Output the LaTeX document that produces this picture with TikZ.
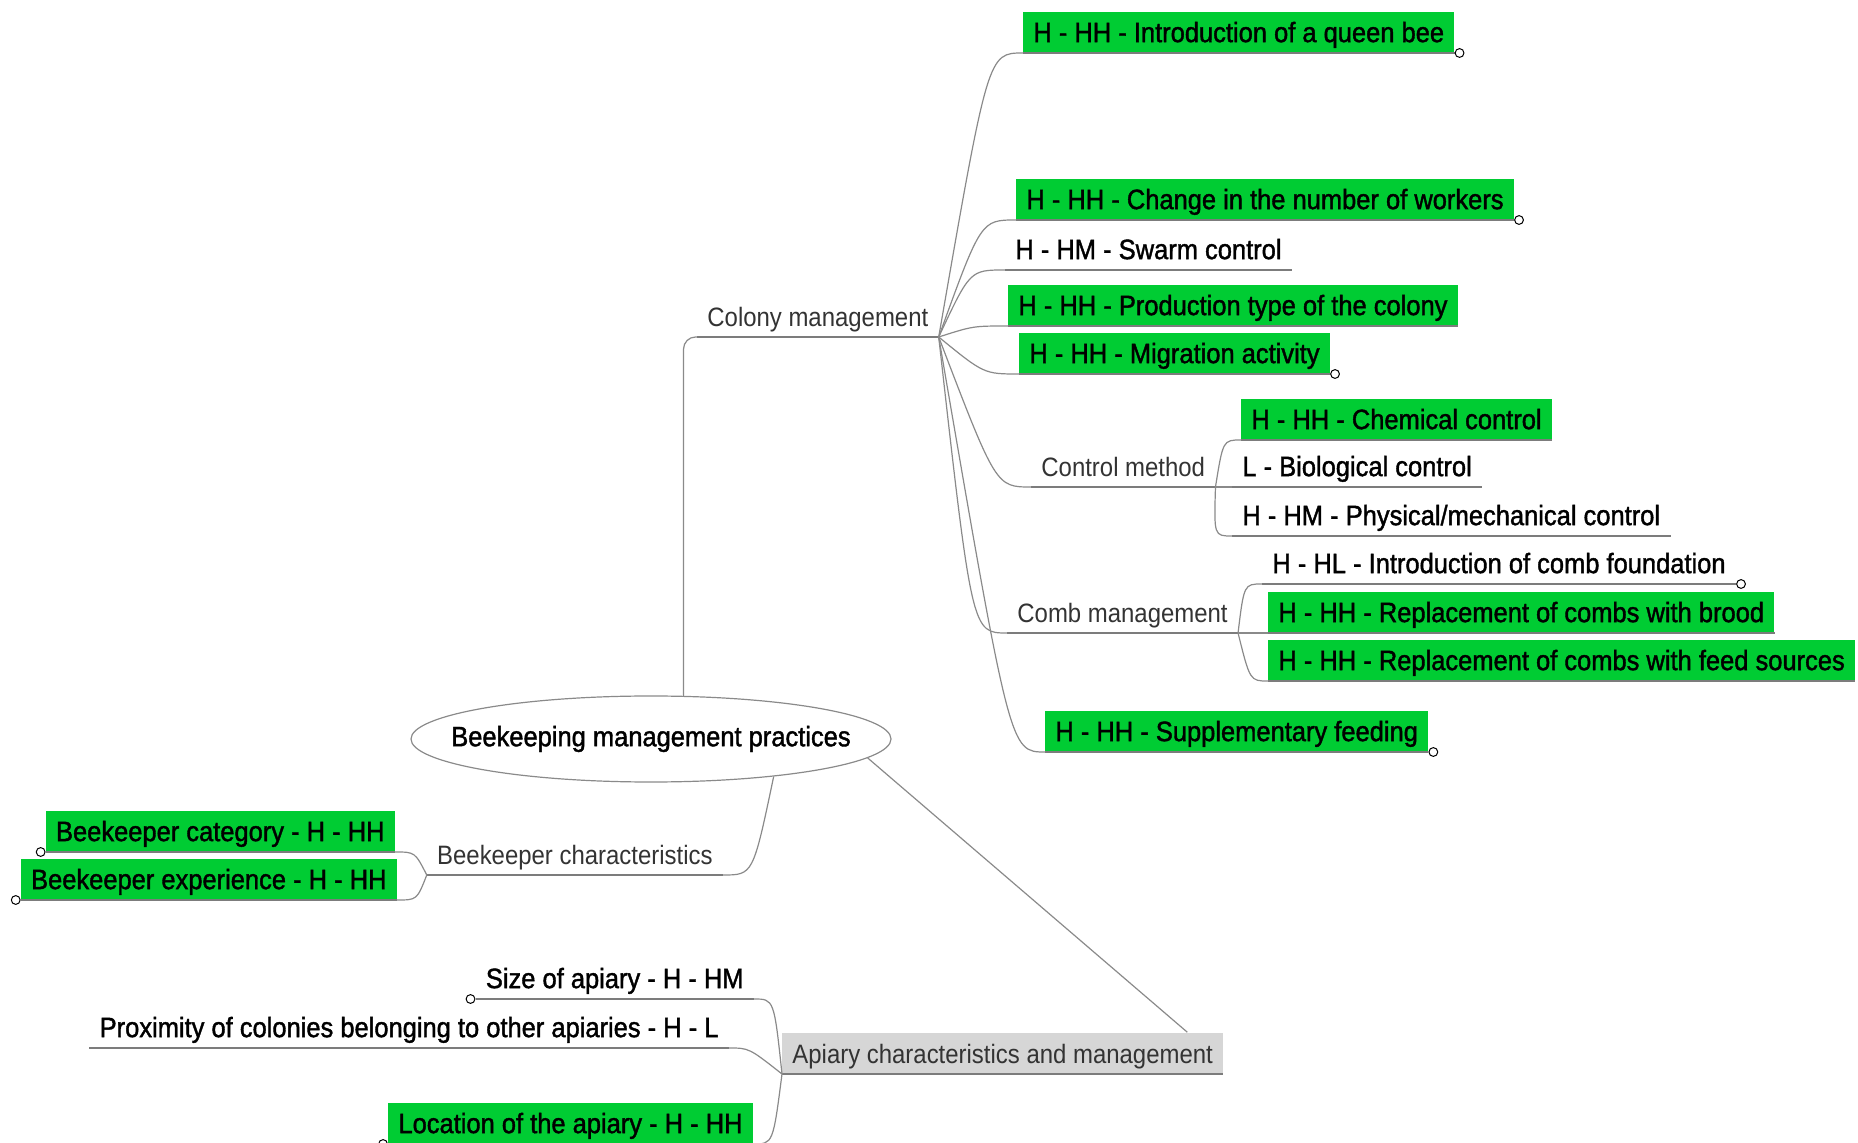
\documentclass[tikz,border=0pt]{standalone}
\usepackage{fontspec}
\setmainfont{Liberation Sans}[FakeStretch=0.9]
\newfontfamily\folhafont{Liberation Sans}[FakeStretch=0.91,FakeBold=1.4]
\usetikzlibrary{calc,shapes.geometric}
\definecolor{verde}{HTML}{00CC33}
\definecolor{cinza}{HTML}{8A8A8A}
\definecolor{cinzaclaro}{HTML}{D6D6D6}

\begin{document}
\begin{tikzpicture}[x=0.5pt,y=-0.5pt,
  folha/.style={anchor=south west,inner xsep=5pt,inner ysep=3.25pt,text height=12pt,text depth=2pt,
    font=\folhafont\fontsize{14}{16}\selectfont},
  folhaesq/.style={folha,anchor=south east},
  marcada/.style={fill=verde},
  ramo/.style={folha,font=\fontsize{13.3}{15}\selectfont,text=black!80},
  raiz/.style={ellipse,draw=cinza,line width=0.6pt,inner xsep=-15pt,inner ysep=0pt,minimum height=43pt,
    font=\folhafont\fontsize{14}{16}\selectfont},
  conn/.style={draw=cinza,line width=0.6pt},
  sub/.style={draw=cinza!90!black,line width=1.1pt},
  bola/.style={draw=black,fill=white,line width=0.5pt},
  rdir/.style={to path={.. controls ($(\tikztotarget)+(-#1,0)$) .. (\tikztotarget)}},
  rdir/.default=35,
  resq/.style={to path={.. controls ($(\tikztotarget)+(#1,0)$) .. (\tikztotarget)}},
  resq/.default=20
]
  \useasboundingbox (0,0) rectangle (1858,1143);

  % raiz
  \node[raiz] (raiz) at (651,739) {Beekeeping management practices};

  % colony management
  \node[ramo] (colonia) at (697,337) {Colony management};
  \node[folha,marcada] (qb) at (1023,53) {H - HH - Introduction of a queen bee};
  \node[folha,marcada] (cnw) at (1016,220) {H - HH - Change in the number of workers};
  \node[folha] (sc) at (1005,270) {H - HM - Swarm control};
  \node[folha,marcada] (pt) at (1008,326) {H - HH - Production type of the colony};
  \node[folha,marcada] (ma) at (1019,374) {H - HH - Migration activity};
  \node[ramo] (cmet) at (1031,487) {Control method};
  \node[folha,marcada] (chem) at (1241,440) {H - HH - Chemical control};
  \node[folha] (bio) at (1232,487) {L - Biological control};
  \node[folha] (phys) at (1232,536) {H - HM - Physical/mechanical control};
  \node[ramo] (comb) at (1007,633) {Comb management};
  \node[folha] (icf) at (1262,584) {H - HL - Introduction of comb foundation};
  \node[folha,marcada] (rcb) at (1268,633) {H - HH - Replacement of combs with brood};
  \node[folha,marcada] (rcf) at (1268,681) {H - HH - Replacement of combs with feed sources};
  \node[folha,marcada] (sf) at (1045,752) {H - HH - Supplementary feeding};

  % beekeeper characteristics
  \node[ramo,anchor=south east] (apic) at (723,875) {Beekeeper characteristics};
  \node[folhaesq,marcada] (bcat) at (395,852) {Beekeeper category - H - HH};
  \node[folhaesq,marcada] (bexp) at (397,900) {Beekeeper experience - H - HH};

  % apiary
  \node[ramo,fill=cinzaclaro] (apiario) at (782,1074) {Apiary characteristics and management};
  \node[folhaesq] (size) at (754,999) {Size of apiary - H - HM};
  \node[folhaesq] (prox) at (729,1048) {Proximity of colonies belonging to other apiaries - H - L};
  \node[folhaesq,marcada] (loc) at (753,1144) {Location of the apiary - H - HH};

  % sublinhas
  \foreach \n in {colonia,qb,cnw,sc,pt,ma,cmet,chem,bio,phys,comb,icf,rcb,rcf,sf,apic,bcat,bexp,apiario,size,prox,loc}
    \draw[sub] (\n.south west) -- (\n.south east);

  % ligacoes
  \draw[conn,rounded corners=6pt] (raiz.53) |- (colonia.south west);
  \foreach \f in {qb,cnw,sc,pt,ma,cmet,comb,sf}
    \draw[conn] (colonia.south east) to[rdir] (\f.south west);
  \foreach \f in {chem,bio,phys}
    \draw[conn] (cmet.south east) to[rdir=18] (\f.south west);
  \foreach \f in {icf,rcb,rcf}
    \draw[conn] (comb.south east) to[rdir=18] (\f.south west);
  \draw[conn] (raiz.-17) to[resq=30] (apic.south east);
  \foreach \f in {bcat,bexp}
    \draw[conn] (apic.south west) to[resq] (\f.south east);
  \draw[conn] (raiz.-5) -- ($(apiario.north east)+(-36,0)$);
  \foreach \f in {size,prox,loc}
    \draw[conn] (apiario.south west) to[resq] (\f.south east);

  % bolinhas
  \foreach \n in {qb,cnw,ma,icf,sf}
    \draw[bola] ($(\n.south east)+(5,0)$) circle (2.2pt);
  \foreach \n in {bcat,bexp,size,loc}
    \draw[bola] ($(\n.south west)+(-5,0)$) circle (2.2pt);
\end{tikzpicture}
\end{document}
